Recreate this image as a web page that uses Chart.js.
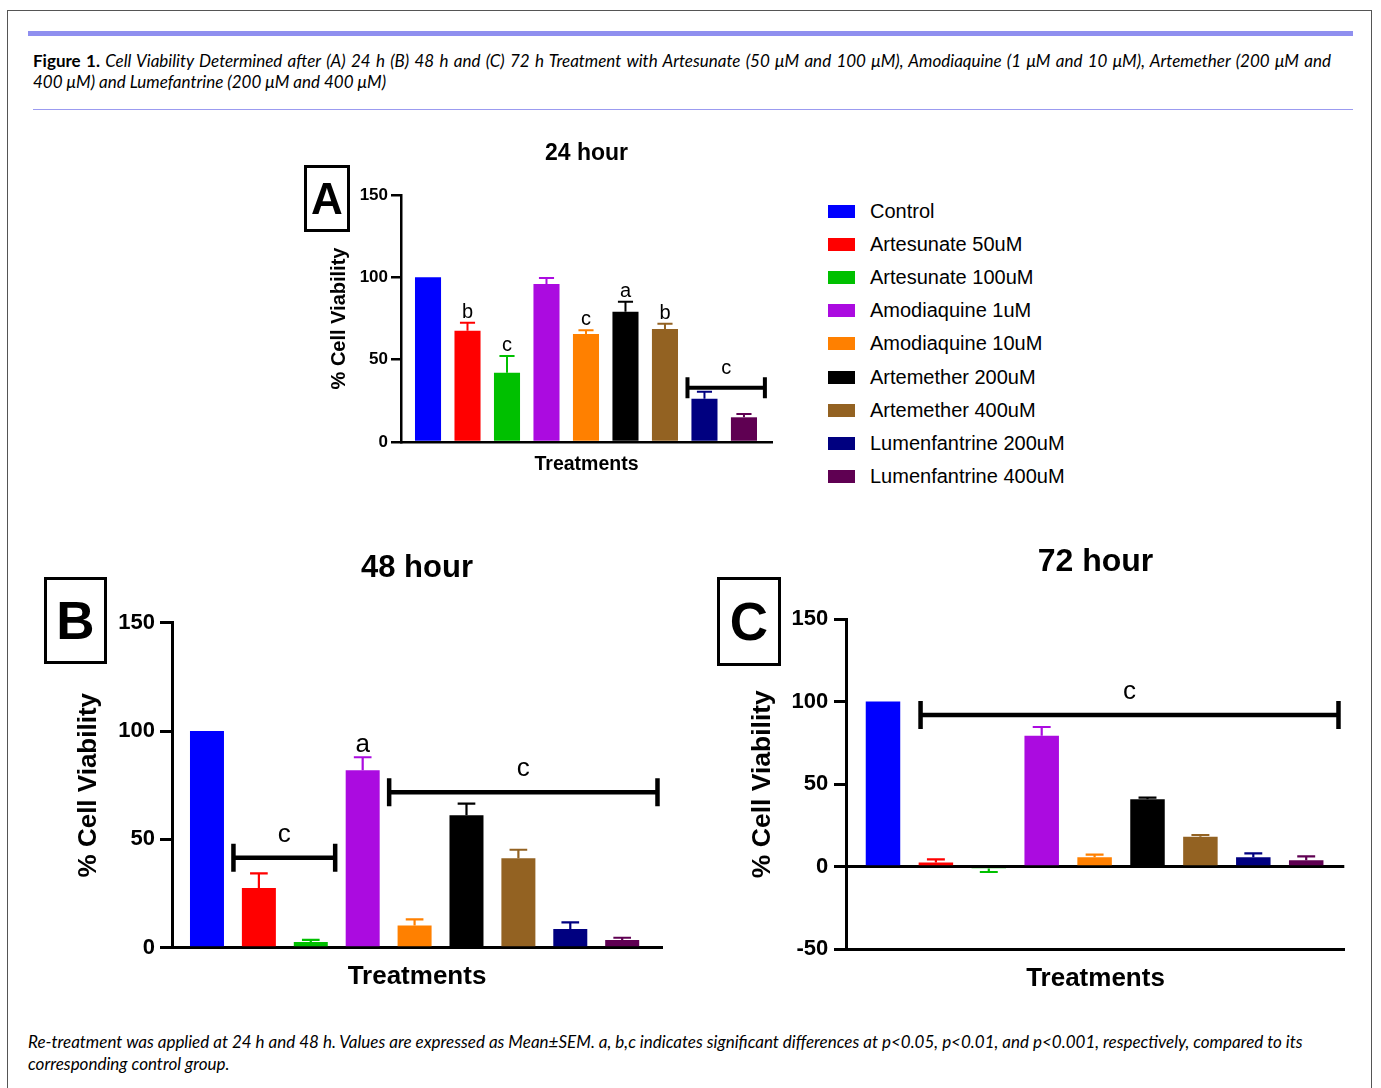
<!DOCTYPE html>
<html>
<head>
<meta charset="utf-8">
<title>Cell Viability</title>
<script src="https://cdn.jsdelivr.net/npm/chart.js@4.4.0/dist/chart.umd.min.js"></script>
<style>
  html, body { margin: 0; padding: 0; background: #fff; }
  body { width: 1381px; height: 1088px; position: relative; overflow: hidden; font-family: 'Liberation Sans', Arial, sans-serif; color: #000; }
  .frame { position: absolute; left: 7px; top: 10px; width: 1365px; height: 1200px; border: 1px solid #555; box-sizing: border-box; }
  .band { position: absolute; left: 28px; top: 31px; width: 1325px; height: 5px; background: #8f8fef; }
  .rule { position: absolute; left: 33px; top: 109px; width: 1320px; height: 1px; background: #9b9bf0; }
  .caption { position: absolute; left: 33px; top: 50px; width: 1298px; font-family: Lato, 'Open Sans', sans-serif; font-style: italic; font-size: 17px; line-height: 21px; }
  .caption .l1 { text-align: justify; text-align-last: justify; }
  .caption b { font-style: normal; font-weight: bold; }
  .footer { position: absolute; left: 28px; top: 1031px; width: 1340px; font-family: Lato, 'Open Sans', sans-serif; font-style: italic; font-size: 17px; line-height: 22px; }
  canvas { position: absolute; }
  .panel { position: absolute; border: 3px solid #000; box-sizing: border-box; font-weight: bold; text-align: center; z-index: 2; }
  #legend { position: absolute; left: 828px; top: 194.7px; font-size: 20px; }
  #legend .row { height: 33.17px; display: flex; align-items: center; }
  #legend .sw { width: 27px; height: 13px; margin-right: 15px; }
</style>
</head>
<body>
<div class="frame"></div>
<div class="band"></div>
<div class="caption">
  <div class="l1"><b>Figure 1.</b> Cell Viability Determined after (A) 24 h (B) 48 h and (C) 72 h Treatment with Artesunate (50 μM and 100 μM), Amodiaquine (1 μM and 10 μM), Artemether (200 μM and</div>
  <div>400 μM) and Lumefantrine (200 μM and 400 μM)</div>
</div>
<div class="rule"></div>

<canvas id="chart24" width="480" height="360" style="left:300px;top:130px"></canvas>
<canvas id="chart48" width="640" height="460" style="left:40px;top:540px"></canvas>
<canvas id="chart72" width="660" height="460" style="left:710px;top:540px"></canvas>

<div class="panel" style="left:304px;top:165px;width:46px;height:67px;font-size:44px;line-height:61px;">A</div>
<div class="panel" style="left:44px;top:577px;width:63px;height:87px;font-size:53px;line-height:81px;">B</div>
<div class="panel" style="left:717px;top:577px;width:64px;height:89px;font-size:53px;line-height:83px;">C</div>

<div id="legend"></div>

<div class="footer">
  <div>Re-treatment was applied at 24 h and 48 h. Values are expressed as Mean±SEM. a, b,c indicates significant differences at p&lt;0.05, p&lt;0.01, and p&lt;0.001, respectively, compared to its</div>
  <div>corresponding control group.</div>
</div>

<script>
const treatments = ['Control', 'Artesunate 50uM', 'Artesunate 100uM', 'Amodiaquine 1uM', 'Amodiaquine 10uM',
    'Artemether 200uM', 'Artemether 400uM', 'Lumenfantrine 200uM', 'Lumenfantrine 400uM'];
const barColors = ['#0000FF', '#FF0000', '#00C000', '#AB0BE0', '#FF8000', '#000000', '#936222', '#000080', '#5F0052'];

// 24 hour
const viability24 = [100, 67.6, 42, 96, 65.6, 79.1, 68.6, 26.3, 15];
const sem24 = [0, 4.8, 10.2, 3.6, 2.2, 6.1, 3.2, 4.2, 2];
const letters24 = ['', 'b', 'c', '', 'c', 'a', 'b', '', ''];
const brackets24 = [{ from: 6.57, to: 8.53, y: 33, label: 'c' }];

// 48 hour
const viability48 = [100, 27.6, 2.6, 81.9, 10.3, 61.1, 41.3, 8.6, 3.6];
const sem48 = [0, 6.7, 1, 6, 2.8, 5.4, 3.9, 3.1, 1];
const letters48 = ['', '', '', 'a', '', '', '', '', ''];
const brackets48 = [
    { from: 0.51, to: 2.47, y: 41.5, label: 'c' },
    { from: 3.51, to: 8.68, y: 71.7, label: 'c' }
];

// 72 hour
const viability72 = [100, 2.6, -1, 79.3, 5.7, 40.8, 18.2, 5.7, 3.9];
const sem72 = [0, 1.8, 2.2, 5.3, 1.6, 1, 1, 2.4, 2.4];
const letters72 = ['', '', '', '', '', '', '', '', ''];
const brackets72 = [{ from: 0.71, to: 8.61, y: 91.9, label: 'c' }];

const FONT = "'Liberation Sans', Arial, sans-serif";

// error bars, significance letters and brackets
function annotationPlugin(errors, letters, brackets, s) {
    return {
        id: 'annotations',
        afterDatasetsDraw(chart) {
            const ctx = chart.ctx;
            const xs = chart.scales.x;
            const ys = chart.scales.y;
            const ds = chart.data.datasets[0];
            ctx.save();
            ctx.lineCap = 'butt';
            chart.getDatasetMeta(0).data.forEach((bar, i) => {
                const v = ds.data[i].y;
                const dir = v < 0 ? -1 : 1;
                let top = bar.y;
                if (errors[i]) {
                    const yEnd = ys.getPixelForValue(v + dir * errors[i]);
                    const half = bar.width * s.cap / 2;
                    ctx.strokeStyle = ds.backgroundColor[i];
                    ctx.lineWidth = s.errWidth;
                    ctx.beginPath();
                    ctx.moveTo(bar.x, bar.y);
                    ctx.lineTo(bar.x, yEnd);
                    ctx.moveTo(bar.x - half, yEnd);
                    ctx.lineTo(bar.x + half, yEnd);
                    ctx.stroke();
                    top = Math.min(top, yEnd);
                }
                if (letters[i]) {
                    ctx.fillStyle = '#000';
                    ctx.font = s.letterSize + 'px ' + FONT;
                    ctx.textAlign = 'center';
                    ctx.textBaseline = 'alphabetic';
                    ctx.fillText(letters[i], bar.x, top - s.gap);
                }
            });
            brackets.forEach(b => {
                const x0 = xs.getPixelForValue(b.from);
                const x1 = xs.getPixelForValue(b.to);
                const yy = ys.getPixelForValue(b.y);
                ctx.strokeStyle = '#000';
                ctx.lineWidth = s.bracketWidth;
                ctx.beginPath();
                ctx.moveTo(x0, yy);
                ctx.lineTo(x1, yy);
                ctx.moveTo(x0, yy - s.bracketEnd);
                ctx.lineTo(x0, yy + s.bracketEnd);
                ctx.moveTo(x1, yy - s.bracketEnd);
                ctx.lineTo(x1, yy + s.bracketEnd);
                ctx.stroke();
                ctx.fillStyle = '#000';
                ctx.font = s.letterSize + 'px ' + FONT;
                ctx.textAlign = 'center';
                ctx.textBaseline = 'alphabetic';
                ctx.fillText(b.label, (x0 + x1) / 2, yy - s.labelGap);
            });
            ctx.restore();
        }
    };
}

function makeChart(id, title, values, errors, letters, brackets, c) {
    const ctx = document.getElementById(id).getContext('2d');
    return new Chart(ctx, {
        type: 'bar',
        data: {
            datasets: [{
                data: values.map((v, i) => ({ x: i, y: v })),
                backgroundColor: barColors,
                borderWidth: 0,
                categoryPercentage: 1,
                barPercentage: c.barPct
            }]
        },
        options: {
            responsive: false,
            animation: false,
            layout: { padding: { left: 0, top: 0, right: c.padRight, bottom: 0 } },
            plugins: {
                legend: { display: false },
                tooltip: { enabled: false },
                title: {
                    display: true,
                    text: title,
                    fullSize: false,
                    color: '#000',
                    font: { family: FONT, size: c.titleSize, weight: 'bold' },
                    padding: { top: c.titlePadTop, bottom: c.titlePadBottom }
                }
            },
            scales: {
                x: {
                    type: 'linear',
                    offset: false,
                    min: c.xMin,
                    max: c.xMax,
                    ticks: { display: false, stepSize: 1, includeBounds: false },
                    grid: { display: false, offset: false },
                    border: { display: true, color: '#000', width: c.axisWidth },
                    title: {
                        display: true,
                        text: 'Treatments',
                        color: '#000',
                        font: { family: FONT, size: c.xTitleSize, weight: 'bold' },
                        padding: { top: 0, bottom: c.xTitlePad }
                    },
                    afterFit: (scale) => { scale.height = c.xHeight; }
                },
                y: {
                    min: c.yMin,
                    max: 150,
                    ticks: {
                        stepSize: 50,
                        color: '#000',
                        padding: c.tickPad,
                        font: { family: FONT, size: c.tickSize, weight: 'bold' }
                    },
                    grid: {
                        drawOnChartArea: c.zeroLine,
                        color: (g) => (g.tick && g.tick.value === 0 ? '#000' : 'rgba(0,0,0,0)'),
                        lineWidth: c.axisWidth,
                        tickLength: c.tickLength,
                        tickColor: '#000',
                        tickWidth: c.axisWidth
                    },
                    border: { display: true, color: '#000', width: c.axisWidth },
                    title: {
                        display: true,
                        text: '% Cell Viability',
                        color: '#000',
                        font: { family: FONT, size: c.yTitleSize, weight: 'bold' },
                        padding: { top: c.yTitlePad, bottom: 0 }
                    },
                    afterFit: (scale) => { scale.width = c.yWidth; }
                }
            }
        },
        plugins: [annotationPlugin(errors, letters, brackets, c)]
    });
}

makeChart('chart24', '24 hour', viability24, sem24, letters24, brackets24, {
    xMin: -0.684, xMax: 8.71, barPct: 0.66, padRight: 8,
    titleSize: 23, titlePadTop: 10, titlePadBottom: 27.4,
    xTitleSize: 19.5, xTitlePad: 14, xHeight: 48,
    yMin: 0, tickSize: 17, tickPad: 3, tickLength: 10, axisWidth: 2.5, zeroLine: false,
    yTitleSize: 20, yTitlePad: 27.5, yWidth: 101,
    cap: 0.58, errWidth: 2, letterSize: 20, gap: 5,
    bracketWidth: 4, bracketEnd: 10.5, labelGap: 14
});

makeChart('chart48', '48 hour', viability48, sem48, letters48, brackets48, {
    xMin: -0.674, xMax: 8.767, barPct: 0.655, padRight: 18,
    titleSize: 31, titlePadTop: 9.4, titlePadBottom: 36.1,
    xTitleSize: 26, xTitlePad: 7.4, xHeight: 52.3,
    yMin: 0, tickSize: 22, tickPad: 5, tickLength: 12, axisWidth: 3, zeroLine: false,
    yTitleSize: 26, yTitlePad: 33.4, yWidth: 132,
    cap: 0.52, errWidth: 2.2, letterSize: 26, gap: 5,
    bracketWidth: 4.5, bracketEnd: 14, labelGap: 16
});

makeChart('chart72', '72 hour', viability72, sem72, letters72, brackets72, {
    xMin: -0.686, xMax: 8.72, barPct: 0.652, padRight: 25.7,
    titleSize: 32, titlePadTop: 2.8, titlePadBottom: 37.8,
    xTitleSize: 26, xTitlePad: 5.4, xHeight: 50.7,
    yMin: -50, tickSize: 22, tickPad: 5.7, tickLength: 12.7, axisWidth: 3, zeroLine: true,
    yTitleSize: 26.5, yTitlePad: 36.6, yWidth: 136.7,
    cap: 0.52, errWidth: 2.2, letterSize: 26, gap: 5,
    bracketWidth: 4.5, bracketEnd: 14, labelGap: 16
});

// legend built from the same category and colour lists
const legendEl = document.getElementById('legend');
treatments.forEach((name, i) => {
    const row = document.createElement('div');
    row.className = 'row';
    const sw = document.createElement('span');
    sw.className = 'sw';
    sw.style.background = barColors[i];
    const label = document.createElement('span');
    label.textContent = name;
    row.appendChild(sw);
    row.appendChild(label);
    legendEl.appendChild(row);
});
</script>
</body>
</html>
